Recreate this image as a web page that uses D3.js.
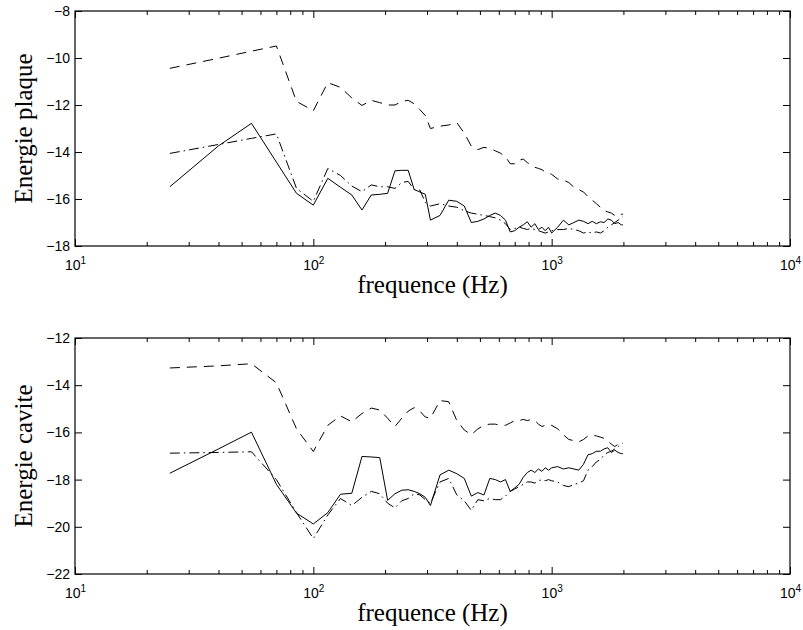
<!DOCTYPE html>
<html>
<head>
<meta charset="utf-8">
<script src="https://cdn.jsdelivr.net/npm/d3@7"></script>
<style>
  html, body { margin: 0; padding: 0; background: #fff; }
  svg { display: block; }
</style>
</head>
<body>
<script>
// ---------------- data ----------------
const freqHz = [
  25, 40, 55, 70, 85, 100, 115, 130, 145, 160, 175, 190, 205, 220, 235, 250, 265, 280, 295,
  310, 340, 370, 400, 430, 460, 490, 520, 550, 580, 610, 640, 670, 700, 730, 760, 790, 820, 850, 880, 910, 940, 970, 1000,
  1060, 1120, 1180, 1240, 1300, 1360, 1420, 1480, 1540, 1600, 1660, 1720, 1780, 1840, 1900, 1960, 1990
];

// Energie plaque
const plaqueSolid = [
  -15.48, -13.74, -12.78, -14.43, -15.76, -16.26, -15.12, -15.5, -15.83, -16.47, -15.83, -15.8, -15.76, -14.8, -14.78, -14.78, -15.6, -15.7, -15.8,
  -16.9, -16.7, -16.05, -16.1, -16.3, -17.0, -16.95, -16.85, -16.7, -16.6, -16.7, -16.9, -17.4, -17.35, -17.2, -17.1, -16.97, -17.2, -17.05, -17.3, -17.2, -17.35, -17.2, -17.45,
  -17.2, -16.9, -17.1, -17.0, -16.9, -16.95, -17.05, -16.95, -17.05, -16.97, -17.0, -16.85, -16.9, -17.05, -17.0, -17.1, -17.1
];
const plaqueDashed = [
  -10.44, -10.01, -9.71, -9.49, -11.85, -12.24, -11.05, -11.25, -11.7, -12.02, -11.8, -11.9, -12.0, -12.0, -11.85, -11.8, -11.95, -12.2, -12.45,
  -13.0, -12.9, -12.85, -12.75, -13.2, -13.75, -13.9, -13.8, -13.85, -13.95, -14.05, -14.2, -14.5, -14.5, -14.35, -14.3, -14.45, -14.55, -14.65, -14.7, -14.75, -14.85, -14.9, -14.95,
  -15.15, -15.2, -15.3, -15.5, -15.6, -15.7, -15.9, -16.05, -16.2, -16.35, -16.5, -16.55, -16.6, -16.7, -16.75, -16.65, -16.65
];
const plaqueDashDot = [
  -14.06, -13.68, -13.42, -13.23, -15.55, -16.1, -14.7, -15.0, -15.45, -15.69, -15.4, -15.48, -15.48, -15.55, -15.3, -15.25, -15.6, -15.62, -16.15,
  -16.3, -16.2, -16.3, -16.35, -16.5, -16.6, -16.65, -16.7, -16.75, -16.8, -16.9, -17.05, -17.3, -17.25, -17.2, -17.25, -17.3, -17.25, -17.3, -17.35, -17.4, -17.45, -17.4, -17.35,
  -17.3, -17.3, -17.25, -17.3, -17.35, -17.45, -17.4, -17.45, -17.4, -17.45, -17.35, -17.2, -17.1, -17.0, -16.9, -16.8, -16.75
];

// Energie cavite
const caviteSolid = [
  -17.73, -16.7, -15.99, -18.2, -19.42, -19.88, -19.4, -18.62, -18.58, -17.02, -17.04, -17.07, -18.88, -18.6, -18.45, -18.43, -18.5, -18.6, -18.75,
  -19.1, -17.8, -17.6, -17.75, -17.95, -18.7, -18.55, -18.65, -17.95, -18.0, -18.1, -18.0, -18.5, -18.35, -18.2, -17.9, -17.7, -17.6, -17.7, -17.55, -17.65, -17.5, -17.6, -17.5,
  -17.45, -17.55, -17.5, -17.55, -17.6, -17.35, -16.95, -16.9, -16.8, -16.8, -16.7, -16.65, -16.85, -16.75, -16.85, -16.9, -16.9
];
const caviteDashed = [
  -13.27, -13.18, -13.09, -13.9, -15.85, -16.81, -15.7, -15.3, -15.55, -15.2, -14.97, -15.05, -15.4, -15.75, -15.4, -15.1, -14.95, -15.1, -15.35,
  -15.4, -14.65, -14.7, -15.5, -15.9, -16.1, -15.85, -15.7, -15.65, -15.65, -15.7, -15.7, -15.6, -15.5, -15.5, -15.45, -15.5, -15.45, -15.5, -15.65, -15.75, -15.7, -15.75, -15.7,
  -15.85, -16.1, -16.3, -16.35, -16.4, -16.3, -16.15, -16.1, -16.15, -16.2, -16.25, -16.35, -16.5, -16.6, -16.5, -16.4, -16.45
];
const caviteDashDot = [
  -16.88, -16.85, -16.82, -18.0, -19.4, -20.5, -19.5, -18.8, -19.1, -18.75, -18.5, -18.6, -19.0, -19.2, -18.9, -18.8, -18.6, -18.65, -18.85,
  -19.0, -18.1, -17.95, -18.65, -18.9, -19.3, -18.85, -18.9, -18.8, -18.85, -18.85, -18.7, -18.5, -18.4, -18.3, -18.2, -18.1, -18.1, -18.15, -18.05, -18.0, -18.05, -18.0, -18.05,
  -18.1, -18.25, -18.3, -18.2, -18.15, -18.05, -17.6, -17.45, -17.25, -17.15, -16.95, -16.85, -16.8, -16.7, -16.6, -16.5, -16.45
];

const xDomain = [10, 10000];
const xMajorTicks = [10, 100, 1000, 10000];
const xMinorTicks = [20, 30, 40, 50, 60, 70, 80, 90, 200, 300, 400, 500, 600, 700, 800, 900, 2000, 3000, 4000, 5000, 6000, 7000, 8000, 9000];
const plaqueYDomain = [-18, -8];
const plaqueYTicks = [-18, -16, -14, -12, -10, -8];
const caviteYDomain = [-22, -12];
const caviteYTicks = [-22, -20, -18, -16, -14, -12];
const xLabelText = "frequence (Hz)";
const plaqueLabel = "Energie plaque";
const caviteLabel = "Energie cavite";

// ---------------- drawing ----------------
const W = 803, H = 630;
const left = 75, right = 790;
const tickFont = "'Liberation Sans', Arial, Helvetica, sans-serif";
const labelFont = "'Liberation Serif', 'Times New Roman', Times, serif";

const svg = d3.select("body").append("svg")
  .attr("width", W).attr("height", H)
  .attr("viewBox", `0 0 ${W} ${H}`);
svg.append("rect").attr("width", W).attr("height", H).attr("fill", "#fff");

const x = d3.scaleLog().domain(xDomain).range([left, right]);

const lineStyles = [null, "10,7", "10,4,1.5,4"];

const panels = [
  { top: 11, bottom: 246, yDomain: plaqueYDomain, yTicks: plaqueYTicks, label: plaqueLabel,
    series: [plaqueSolid, plaqueDashed, plaqueDashDot] },
  { top: 338, bottom: 574, yDomain: caviteYDomain, yTicks: caviteYTicks, label: caviteLabel,
    series: [caviteSolid, caviteDashed, caviteDashDot] }
];

panels.forEach(p => {
  const y = d3.scaleLinear().domain(p.yDomain).range([p.bottom, p.top]);
  const g = svg.append("g");

  const stripDomain = sel => sel.select(".domain").remove();

  // minor x ticks (bottom & top)
  g.append("g").attr("transform", `translate(0,${p.bottom})`)
    .call(d3.axisBottom(x).tickValues(xMinorTicks).tickSize(-4).tickFormat(""))
    .call(stripDomain);
  g.append("g").attr("transform", `translate(0,${p.top})`)
    .call(d3.axisTop(x).tickValues(xMinorTicks).tickSize(-4).tickFormat(""))
    .call(stripDomain);

  // major x ticks with labels (bottom)
  g.append("g").attr("transform", `translate(0,${p.bottom})`)
    .call(d3.axisBottom(x).tickValues(xMajorTicks).tickSize(-7).tickPadding(0).tickFormat(d => "10"))
    .call(stripDomain)
    .call(ax => ax.selectAll(".tick text").each(function(d) {
      const t = d3.select(this);
      const e = Math.round(Math.log10(d));
      t.text(null).attr("dy", null).attr("y", 24)
        .attr("font-family", tickFont).attr("font-size", 14).attr("fill", "#000");
      t.append("tspan").text("10");
      t.append("tspan").attr("dy", -6).attr("font-size", 10).text(e);
    }));
  g.append("g").attr("transform", `translate(0,${p.top})`)
    .call(d3.axisTop(x).tickValues(xMajorTicks).tickSize(-7).tickFormat(""))
    .call(stripDomain);

  // y ticks
  g.append("g").attr("transform", `translate(${left},0)`)
    .call(d3.axisLeft(y).tickValues(p.yTicks).tickSize(-7).tickPadding(5).tickFormat(d3.format("d")))
    .call(stripDomain)
    .call(ax => ax.selectAll(".tick text")
      .attr("font-family", tickFont).attr("font-size", 14).attr("fill", "#000"));
  g.append("g").attr("transform", `translate(${right},0)`)
    .call(d3.axisRight(y).tickValues(p.yTicks).tickSize(-7).tickFormat(""))
    .call(stripDomain);

  g.selectAll(".tick line").attr("stroke", "#000").attr("stroke-width", 1);

  // data lines
  const line = d3.line().x(d => x(d[0])).y(d => y(d[1]));
  p.series.forEach((vals, i) => {
    const pts = freqHz.map((f, k) => [f, vals[k]]);
    g.append("path")
      .attr("d", line(pts))
      .attr("fill", "none")
      .attr("stroke", "#000")
      .attr("stroke-width", 1)
      .attr("stroke-linejoin", "miter")
      .attr("stroke-dasharray", lineStyles[i]);
  });

  // box
  g.append("rect")
    .attr("x", left).attr("y", p.top)
    .attr("width", right - left).attr("height", p.bottom - p.top)
    .attr("fill", "none").attr("stroke", "#000").attr("stroke-width", 1.2);

  // labels
  g.append("text")
    .attr("x", (left + right) / 2).attr("y", p.bottom + 47)
    .attr("text-anchor", "middle")
    .attr("font-family", labelFont).attr("font-size", 25).attr("fill", "#000")
    .text(xLabelText);
  g.append("text")
    .attr("transform", `translate(32,${(p.top + p.bottom) / 2}) rotate(-90)`)
    .attr("text-anchor", "middle")
    .attr("font-family", labelFont).attr("font-size", 25).attr("fill", "#000")
    .text(p.label);
});
</script>
</body>
</html>
